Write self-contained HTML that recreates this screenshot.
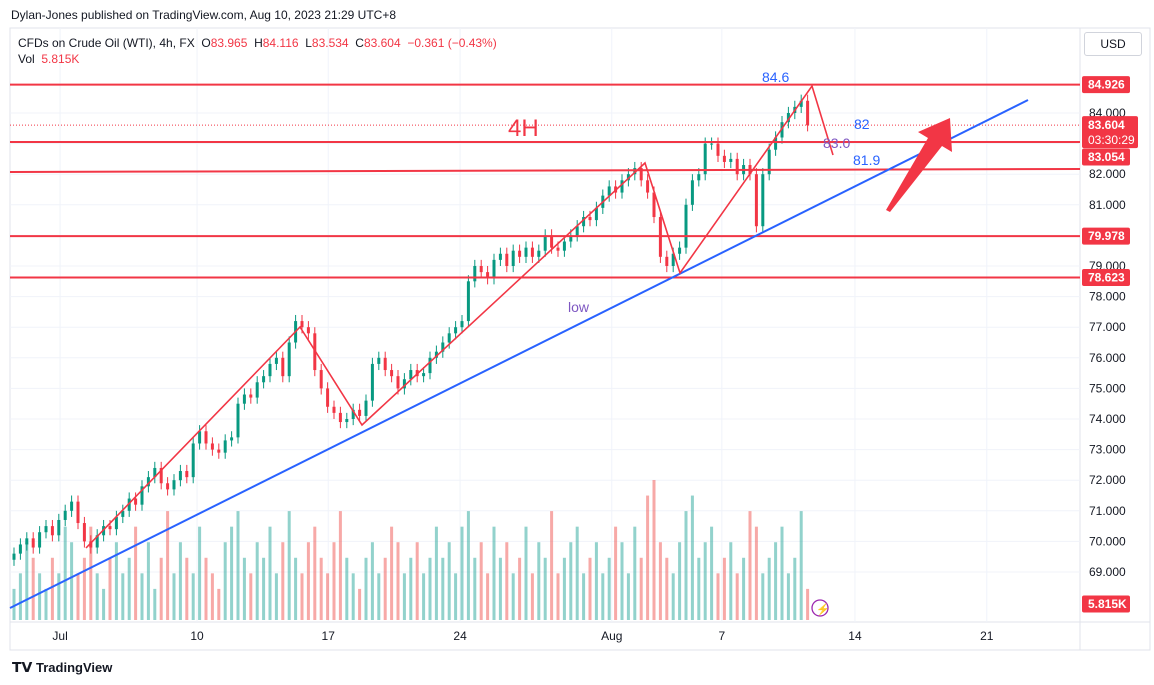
<!DOCTYPE html>
<html><head><meta charset="utf-8">
<style>
body{margin:0;background:#fff;font-family:"Liberation Sans",sans-serif;}
#wrap{position:relative;width:1154px;height:685px;overflow:hidden;}
.t{position:absolute;white-space:nowrap;}
</style></head>
<body>
<div id="wrap">
<div class="t" style="left:11px;top:8px;font-size:12px;color:#131722">Dylan-Jones published on TradingView.com, Aug 10, 2023 21:29 UTC+8</div>
<svg id="svg" width="1154" height="685" style="position:absolute;left:0;top:0"></svg>
<div class="t" style="left:18px;top:36px;font-size:12px;color:#131722">CFDs on Crude Oil (WTI), 4h, FX &nbsp;O<span style="color:#f23645">83.965</span> &nbsp;H<span style="color:#f23645">84.116</span> &nbsp;L<span style="color:#f23645">83.534</span> &nbsp;C<span style="color:#f23645">83.604</span> &nbsp;<span style="color:#f23645">−0.361 (−0.43%)</span></div>
<div class="t" style="left:18px;top:52px;font-size:12px;color:#131722">Vol &nbsp;<span style="color:#f23645">5.815K</span></div>
<div class="t" style="left:1084px;top:32px;width:56px;height:22px;border:1px solid #d1d4dc;border-radius:3px;font-size:12px;line-height:22px;text-align:center;color:#131722">USD</div>
<div class="t" style="left:12px;top:659px;font-size:13px;font-weight:bold;color:#131722"><span style="font-size:14px">𝗧𝗩</span> TradingView</div>
</div>
<script>
const closes=[69.6,69.9,70.1,69.8,70.3,70.5,70.2,70.7,
71.0,71.3,70.6,70.0,69.8,
70.2,70.5,70.4,70.8,71.0,71.4,71.2,71.8,
72.1,72.4,71.9,71.7,72.0,72.3,72.1,73.2,
73.6,73.2,73.0,72.9,73.3,73.4,74.5,
74.8,74.7,75.2,75.4,75.8,76.0,75.4,76.5,77.2,
77.0,76.8,75.6,75.0,74.4,74.2,73.9,74.0,
74.3,74.1,74.6,75.8,
76.0,75.6,75.4,75.0,75.3,75.6,75.4,75.5,
76.0,76.2,76.5,76.8,77.0,77.2,78.5,
79.0,78.8,78.6,79.2,79.4,79.0,79.5,79.3,79.6,79.3,79.5,80.0,
79.6,79.5,79.8,80.0,80.3,80.6,80.5,80.9,81.3,81.6,81.4,81.8,82.0,82.2,
81.8,81.4,80.6,79.3,79.0,79.4,79.6,
81.0,81.8,82.0,83.0,
83.0,82.6,82.4,82.5,82.0,82.3,82.0,80.3,
82.0,82.8,83.2,83.7,84.0,84.2,84.4,83.6];
const volumes=[2,3,5,4,3,2,4,3,6,5,3,4,6,3,2,4,5,3,4,6,3,5,2,4,7,3,5,4,3,6,4,3,2,5,6,7,4,3,5,4,6,3,5,7,4,3,5,6,4,3,5,7,4,3,2,4,5,3,4,6,5,3,4,5,3,4,6,4,5,3,6,7,4,5,3,6,4,5,3,4,6,3,5,4,7,3,4,5,6,3,4,5,3,4,6,5,3,6,4,8,9,5,4,3,5,7,8,4,5,6,3,4,5,3,4,7,6,3,4,5,6,3,4,7,2,3];
const priceTicks=[84,83,82,81,80,79,78,77,76,75,74,73,72,71,70,69];
const dateLabels=["Jul","10","17","24","Aug","7","14","21"];
const dateIdx=[7.2,28.6,49.1,69.7,93.4,110.6,131.4,152.0];
const levels=[84.926,83.054,79.978,78.623];
const svg=document.getElementById('svg');
const NS='http://www.w3.org/2000/svg';
const X0=14,STEP=6.4;
const x=i=>X0+i*STEP;
const y=p=>113+(84-p)*30.6;
function el(tag,a,parent){const e=document.createElementNS(NS,tag);for(const k in a)e.setAttribute(k,a[k]);(parent||svg).appendChild(e);return e;}
let f=el('rect',{x:10,y:28,width:1140,height:622,fill:'none',stroke:'#e0e3eb'});


let sep=el('line',{x1:1080,y1:28,x2:1080,y2:650,stroke:'#e0e3eb'});


let sep2=el('line',{x1:10,y1:622,x2:1150,y2:622,stroke:'#e0e3eb'});


priceTicks.forEach(p=>{
  const g=el('line',{x1:10,y1:y(p),x2:1080,y2:y(p),stroke:'#f0f3fa'});
  
  
  const t=el('text',{x:1089,y:y(p)+4,'font-size':12,fill:'#131722'});
  t.textContent=p.toFixed(3);
  
  
});
dateLabels.forEach((d,k)=>{
  const xx=x(dateIdx[k]);
  const g=el('line',{x1:xx,y1:28,x2:xx,y2:622,stroke:'#f0f3fa'});
  
  
  const t=el('text',{x:xx,y:640,'font-size':12,fill:'#131722','text-anchor':'middle'});
  t.textContent=d;
  
  
});
const vmax=9;
closes.forEach((c,i)=>{
  const o=i?closes[i-1]:c-0.2;
  const h=volumes[i]/vmax*140;
  const r=el('rect',{x:x(i)-1.5,y:620-h,width:3,height:h,fill:c>=o?'rgba(38,166,154,0.5)':'rgba(239,83,80,0.5)'});
  
  
});
closes.forEach((c,i)=>{
  const o=i?closes[i-1]:c-0.2;
  const up=c>=o;const col=up?'#089981':'#f23645';
  const hi=Math.max(o,c)+0.2,lo=Math.min(o,c)-0.2;
  const w=el('line',{x1:x(i),y1:y(hi),x2:x(i),y2:y(lo),stroke:col,'stroke-width':1});
  
  
  const b=el('rect',{x:x(i)-1.5,y:y(Math.max(o,c)),width:3,height:Math.max(1,Math.abs(y(o)-y(c))),fill:col});
  
  
});
levels.forEach(l=>{
  const ln=el('line',{x1:10,y1:y(l),x2:1080,y2:y(l),stroke:'#f23645','stroke-width':2});
  
  
});
let sl=el('line',{x1:10,y1:172,x2:1080,y2:169,stroke:'#f23645','stroke-width':2});


let cp=el('line',{x1:10,y1:y(83.604),x2:1080,y2:y(83.604),stroke:'#f23645','stroke-width':1,'stroke-dasharray':'1 2'});


let tl=el('line',{x1:10,y1:608,x2:1028,y2:100,stroke:'#2962ff','stroke-width':2});


let zz=el('polyline',{points:'86,548 300,327 362,425 645,163 680,273 812,86 833,155',fill:'none',stroke:'#f23645','stroke-width':1.6});


let ar=el('polygon',{points:'886,210 928,138 918,132 950,118 952,152 942,146 890,212',fill:'#f23645'});


[['4H',508,136,24,'#f23645','label-4h'],['84.6',762,82,14,'#2962ff','label-84-6'],['82',854,129,14,'#2962ff','label-82'],['83.0',823,148,14,'#7e57c2','label-83-0'],['81.9',853,165,14,'#2962ff','label-81-9'],['low',568,312,14,'#7e57c2','label-low']].forEach(a=>{
  const t=el('text',{x:a[1],y:a[2],'font-size':a[3],fill:a[4]});t.textContent=a[0];
  
  
});
function tag(v,yy,h,name,sub){
  const g=el('g',{});
  
  
  el('rect',{x:1082,y:yy-h/2,width:sub?56:48,height:h,fill:'#f23645',rx:2},g);
  const t=el('text',{x:1088,y:sub?yy-3:yy+4,'font-size':12,'font-weight':'bold',fill:'#fff'},g);t.textContent=v;
  if(sub){const s=el('text',{x:1088,y:yy+12,'font-size':12,fill:'#fff'},g);s.textContent=sub;}
}
tag('84.926',y(84.926),17,'tag-84-926');
tag('83.054',y(83.054)+15,17,'tag-83-054');
tag('83.604',y(83.604)+7,32,'tag-current-price','03:30:29');
tag('79.978',y(79.978),17,'tag-79-978');
tag('78.623',y(78.623),17,'tag-78-623');
tag('5.815K',604,17,'tag-volume');
let ic=el('circle',{cx:820,cy:608,r:8,fill:'#fff',stroke:'#9c27b0','stroke-width':1.3});


let it=el('text',{x:816,y:613,'font-size':11,fill:'#9c27b0'});it.textContent='⚡';


</script>
</body></html>
